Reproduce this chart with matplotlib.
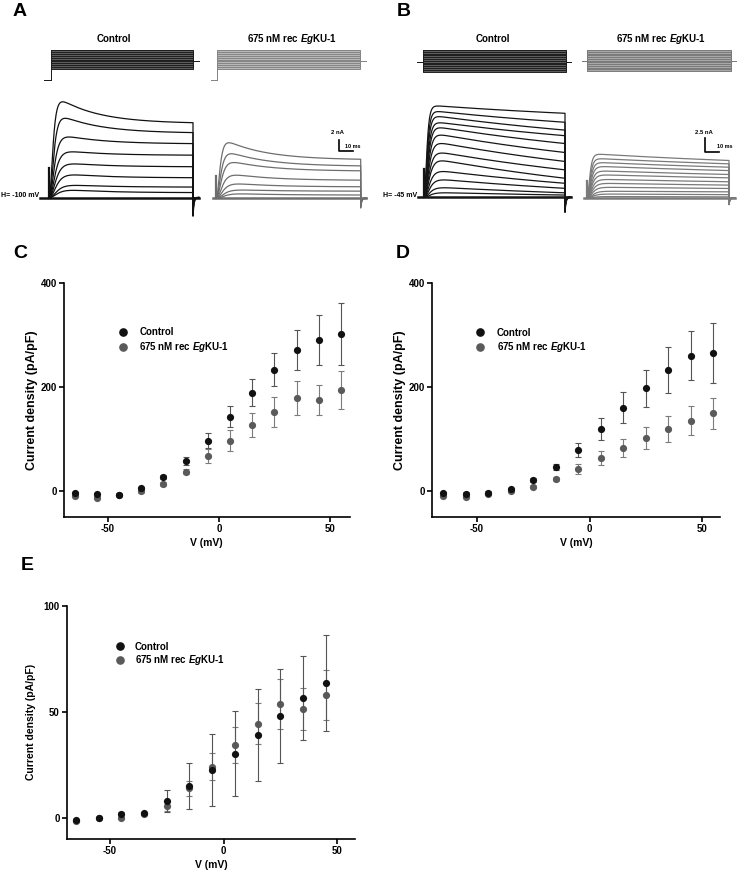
import numpy as np
import matplotlib.pyplot as plt
from matplotlib.lines import Line2D

plt.rcParams['font.family'] = ['Liberation Sans', 'DejaVu Sans']
plt.rcParams['font.weight'] = 'bold'
plt.rcParams['axes.labelweight'] = 'bold'
plt.rcParams['axes.unicode_minus'] = False
plt.rcParams['mathtext.fontset'] = 'custom'
plt.rcParams['mathtext.rm'] = 'Liberation Sans:bold'
plt.rcParams['mathtext.bfit'] = 'Liberation Sans:italic:bold'

##########################################################
# data
##########################################################
# I-V curves, current density (pA/pF)
volt_cd = [-65, -55, -45, -35, -25, -15, -5, 5, 15, 25, 35, 45, 55]
c_ctrl = [-4, -6, -7, 5, 27, 58, 97, 143, 189, 233, 271, 290, 302]
c_ctrl_err = [3, 3, 3, 3, 4, 8, 15, 20, 26, 32, 39, 48, 59]
c_trt = [-9, -13, -8, 0, 14, 37, 67, 97, 127, 152, 179, 175, 194]
c_trt_err = [2, 2, 2, 3, 4, 5, 13, 20, 23, 29, 32, 29, 37]

d_ctrl = [-5, -6, -4, 3, 20, 45, 78, 119, 160, 197, 232, 260, 265]
d_ctrl_err = [3, 3, 3, 3, 4, 6, 14, 21, 29, 36, 44, 48, 58]
d_trt = [-10, -12, -6, -1, 8, 22, 42, 63, 82, 101, 119, 135, 149]
d_trt_err = [2, 2, 2, 2, 3, 4, 9, 13, 17, 21, 25, 27, 30]

volt_e = [-65, -55, -45, -35, -25, -15, -5, 5, 15, 25, 35, 45]
e_ctrl = [-1.1, -0.2, 1.9, 2.0, 7.9, 15.0, 22.3, 30.1, 39.0, 48.0, 56.5, 63.7]
e_ctrl_err = [0.5, 0.5, 0.8, 0.8, 5.0, 11.0, 17.0, 20.0, 21.5, 22.0, 20.0, 22.7]
e_trt = [-1.6, -0.3, 0.0, 1.7, 5.5, 13.8, 24.0, 34.2, 44.4, 53.5, 51.1, 57.8]
e_trt_err = [0.5, 0.5, 0.5, 0.6, 2.5, 3.4, 6.3, 8.5, 9.8, 11.8, 9.9, 11.8]

# example current traces: peak and end-of-pulse amplitude (nA)
a_ctrl_peak = [17.4, 14.4, 11.0, 8.3, 6.1, 4.1, 2.2, 1.3]
a_ctrl_end = [13.6, 11.8, 9.8, 7.7, 5.6, 3.6, 1.9, 0.9]
a_trt_peak = [10.1, 8.1, 6.5, 4.2, 2.6, 1.5, 0.8]
a_trt_end = [7.1, 5.9, 5.0, 3.3, 2.1, 1.3, 0.6]
b_ctrl_peak = [16.3, 15.3, 14.4, 13.3, 12.4, 11.1, 9.6, 7.9, 6.5, 4.6, 3.1, 1.7, 0.8]
b_ctrl_end = [15.0, 13.4, 12.0, 11.0, 9.6, 8.0, 6.4, 4.9, 3.4, 2.5, 1.6, 0.8, 0.4]
b_trt_peak = [7.8, 7.0, 6.3, 5.6, 4.8, 4.1, 3.3, 2.6, 1.9, 1.2, 0.7, 0.25]
b_trt_end = [6.7, 6.1, 5.5, 4.9, 4.2, 3.6, 2.9, 2.3, 1.7, 1.1, 0.6, 0.2]

# voltage protocols (mV)
a_steps = np.arange(-40, 61, 10)
a_hold, a_tail = -100, 0
b_steps = np.arange(-100, 21, 10)
b_hold, b_tail = -45, -45

lab_ctrl = 'Control'
lab_trt = r'675 nM rec $\mathbfit{Eg}$KU-1'

W, H = 737, 874
fig = plt.figure(figsize=(W / 100, H / 100), dpi=100)


def map_axes(xmap, ymap, xlim, ylim):
    # place an axes so that two known pixel positions hit two data values
    (pa, va), (pb, vb) = xmap
    sx = (pb - pa) / (vb - va)
    x0 = pa + (xlim[0] - va) * sx
    x1 = pa + (xlim[1] - va) * sx
    (qa, wa), (qb, wb) = ymap
    sy = (qb - qa) / (wb - wa)
    y0 = qa + (ylim[1] - wa) * sy
    y1 = qa + (ylim[0] - wa) * sy
    ax = fig.add_axes([x0 / W, 1 - y1 / H, (x1 - x0) / W, (y1 - y0) / H])
    ax.set_xlim(xlim)
    ax.set_ylim(ylim)
    ax.patch.set_alpha(0)
    return ax


t_on = np.linspace(0, 100, 800)


def k_trace(peak, end, tau_a, tau_i):
    act = (1 - np.exp(-t_on / tau_a)) ** 3
    decay = np.exp(-t_on / tau_i) - np.exp(-100 / tau_i)
    c = max(peak - end, 0)
    for _ in range(8):
        y = act * (end + c * decay)
        if c > 0 and y.max() - end > 1e-6:
            c *= (peak - end) / (y.max() - end)
    return act * (end + c * decay)


def draw_traces(ax, peaks, ends, color, tau_a, tau_i, t_pre, tail_frac, cap):
    n = len(peaks)
    for i, (pk, en) in enumerate(zip(peaks, ends)):
        y = k_trace(pk, en, tau_a * (1 + 1.5 * i / n), tau_i)
        t_tail = np.linspace(100, 104, 40)
        y_tail = -tail_frac * en * np.exp(-(t_tail - 100) / 0.7)
        ax.plot(np.concatenate([[0], t_on, t_tail]), np.concatenate([[0], y, y_tail]),
                color=color, lw=0.9)
    ax.plot([t_pre, 104], [0, 0], color=color, lw=1.8)
    ax.plot([0, 0], [0, cap], color=color, lw=1.6)
    ax.axis('off')


def draw_protocol(ax, steps, hold, tail, line_c, fill_c, t_pre, t_post):
    ax.fill_between([0, 100], min(steps), max(steps), color=fill_c, lw=0)
    for v in steps:
        ax.plot([t_pre, 0, 0, 100, 100, t_post], [hold, hold, v, v, tail, tail],
                color=line_c, lw=0.7)
    ax.axis('off')


def scale_bar(ax, t0, i0, di, lab_i, lab_i_pos, lab_t_pos):
    ax.plot([t0, t0, t0 + 10], [i0 + di, i0, i0], color='black', lw=1.2)
    ax.text(*lab_i_pos, lab_i, ha='center', va='center', fontsize=4.3)
    ax.text(*lab_t_pos, '10 ms', ha='center', va='center', fontsize=4)


##########################################################
# A
##########################################################
ax = map_axes(((51, 0), (193, 100)), ((50, 60), (69, -40)), (-7, 106), (-110, 70))
draw_protocol(ax, a_steps, a_hold, a_tail, '#1e1e1e', '#5e5e5e', -5, 104.2)
ax = map_axes(((217, 0), (360, 100)), ((50, 60), (69, -40)), (-7, 106), (-110, 70))
draw_protocol(ax, a_steps, a_hold, a_tail, '#858585', '#b8b8b8', -4.5, 104.2)

ax = map_axes(((49, 0), (193, 100)), ((197.5, 0), (142.5, 10)), (-7, 106), (-4, 19))
draw_traces(ax, a_ctrl_peak, a_ctrl_end, '#111111', 1.8, 28, -6, 0.25, 5.3)
ax.text(-6.6, 0.3, 'H= -100 mV', ha='right', va='center', fontsize=5)
ax = map_axes(((216, 0), (360.7, 100)), ((198.3, 0), (143.3, 10)), (-7, 106), (-4, 19))
draw_traces(ax, a_trt_peak, a_trt_end, '#6e6e6e', 1.8, 28, -2, 0.25, 4.0)
scale_bar(ax, 85, 8.6, 2, '2 nA', (84, 11.9), (94.7, 9.4))

##########################################################
# B
##########################################################
ax = map_axes(((423, 0), (566, 100)), ((50, 20), (71.7, -100)), (-7, 106), (-110, 30))
draw_protocol(ax, b_steps, b_hold, b_tail, '#1e1e1e', '#5e5e5e', -4.2, 103.5)
ax = map_axes(((587, 0), (731, 100)), ((50, 20), (71, -100)), (-7, 106), (-110, 30))
draw_protocol(ax, b_steps, b_hold, b_tail, '#7a7a7a', '#a8a8a8', -3.6, 104.5)

ax = map_axes(((424, 0), (565, 100)), ((197.3, 0), (141.3, 10)), (-7, 106), (-4, 19))
draw_traces(ax, b_ctrl_peak, b_ctrl_end, '#151515', 1.3, 200, -4.2, 0.18, 5.0)
ax.text(-4.6, 0.4, 'H= -45 mV', ha='right', va='center', fontsize=5)
ax = map_axes(((587, 0), (729, 100)), ((198, 0), (142, 10)), (-7, 106), (-4, 19))
draw_traces(ax, b_trt_peak, b_trt_end, '#7a7a7a', 1.3, 200, -2, 0.18, 3.0)
scale_bar(ax, 83, 8.2, 2.5, '2.5 nA', (82.4, 11.7), (97, 9.2))

for x, s in [(114, lab_ctrl), (292, lab_trt), (493, lab_ctrl), (661, lab_trt)]:
    fig.text(x / W, 1 - 39 / H, s, ha='center', va='center', fontsize=7)

for x, y, s in [(20, 11, 'A'), (404, 11, 'B'), (20, 254, 'C'), (403, 254, 'D'), (27, 565, 'E')]:
    fig.text(x / W, 1 - y / H, s, ha='center', va='center', fontsize=14)


##########################################################
# C, D, E  I-V curves
##########################################################
def iv_panel(ax, v, ctrl, ctrl_err, trt, trt_err, yticks, ylab_size, ylab_x,
             leg_anchor, leg_pad, leg_space):
    ax.errorbar(v, trt, yerr=trt_err, fmt='none', ecolor='#7c7c7c', elinewidth=0.8,
                capsize=2.2, capthick=0.8, zorder=2)
    ax.plot(v, trt, 'o', color='#5a5a5a', ms=5.2, mec='none', zorder=3)
    ax.errorbar(v, ctrl, yerr=ctrl_err, fmt='none', ecolor='#555555', elinewidth=0.8,
                capsize=2.2, capthick=0.8, zorder=4)
    ax.plot(v, ctrl, 'o', color='#111111', ms=5.2, mec='none', zorder=5)
    for s in ['top', 'right']:
        ax.spines[s].set_visible(False)
    for s in ['left', 'bottom']:
        ax.spines[s].set_linewidth(1.2)
    ax.set_xticks([-50, 0, 50])
    ax.set_yticks(yticks)
    ax.tick_params(direction='out', length=3.5, width=1.2, pad=1.5, labelsize=7)
    ax.set_xlabel('V (mV)', fontsize=7.5)
    ax.xaxis.set_label_coords(0.5, -0.09)
    ax.set_ylabel('Current density (pA/pF)', fontsize=ylab_size)
    ax.yaxis.set_label_coords(ylab_x, 0.5)
    handles = [Line2D([], [], ls='none', marker='o', color='#111111', ms=5.2),
               Line2D([], [], ls='none', marker='o', color='#5a5a5a', ms=5.2)]
    ax.legend(handles, [lab_ctrl, lab_trt], loc='upper left', bbox_to_anchor=leg_anchor,
              frameon=False, fontsize=7, handlelength=1, handletextpad=leg_pad,
              borderpad=0, borderaxespad=0, labelspacing=leg_space)


ax = map_axes(((108, -50), (330, 50)), ((491, 0), (387, 200)), (-70, 59), (-50, 400))
iv_panel(ax, volt_cd, c_ctrl, c_ctrl_err, c_trt, c_trt_err, [0, 200, 400], 9, -0.09,
         (0.192, 0.812), 1.15, 0.35)

ax = map_axes(((477, -50), (702, 50)), ((490.7, 0), (386.7, 200)), (-70, 58), (-50, 400))
iv_panel(ax, volt_cd, d_ctrl, d_ctrl_err, d_trt, d_trt_err, [0, 200, 400], 9, -0.09,
         (0.15, 0.808), 1.25, 0.25)

ax = map_axes(((110, -50), (337, 50)), ((817.7, 0), (711.7, 50)), (-69, 58), (-10, 100))
iv_panel(ax, volt_e, e_ctrl, e_ctrl_err, e_trt, e_trt_err, [0, 50, 100], 7.5, -0.108,
         (0.167, 0.846), 1.05, 0.15)

fig.savefig('out.png', dpi=100)
